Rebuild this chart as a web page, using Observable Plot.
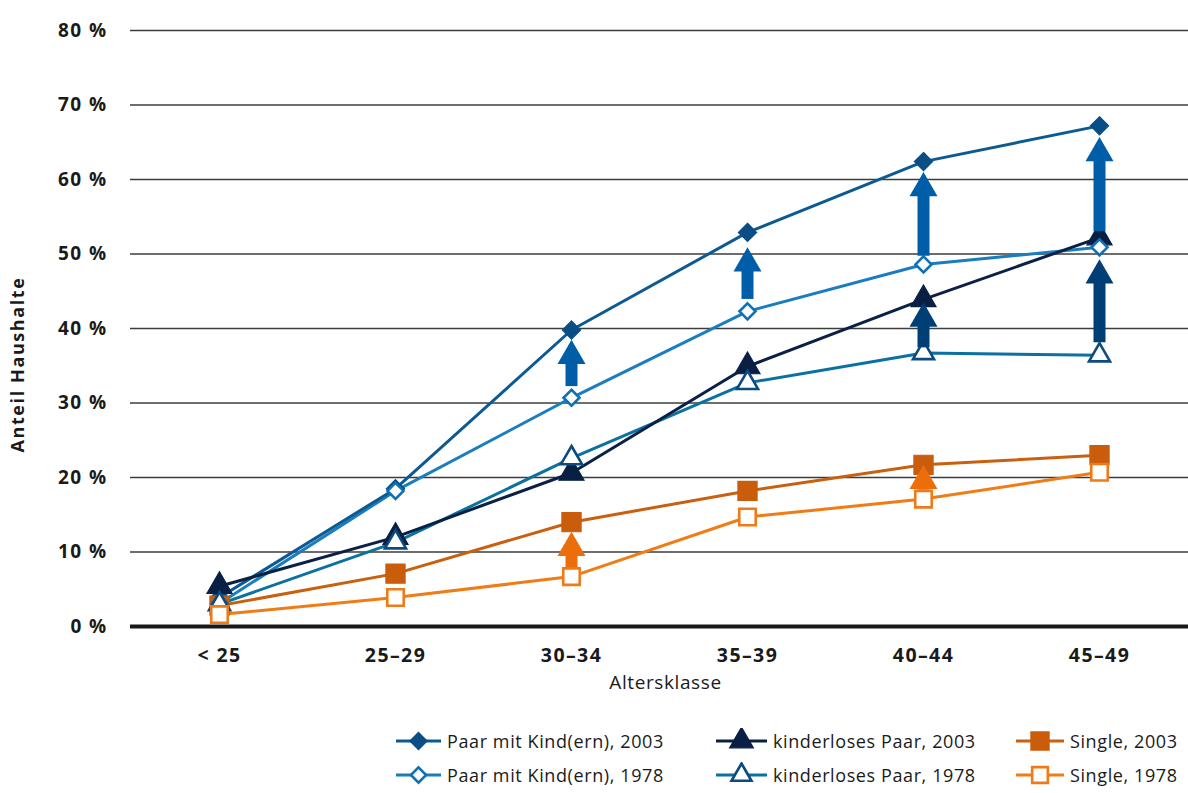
<!DOCTYPE html>
<html><head><meta charset="utf-8">
<script src="https://cdn.jsdelivr.net/npm/d3@7"></script>
<script src="https://cdn.jsdelivr.net/npm/@observablehq/plot@0.6"></script>
<style>
body{margin:0;background:#fff;font-family:"Open Sans",sans-serif;}
#wrap{position:relative;width:1188px;height:793px;overflow:hidden;}
#chart svg{display:block;}
.lg{position:absolute;display:flex;align-items:center;font-size:18px;letter-spacing:0.6px;color:#1a1a1a;white-space:nowrap;}
.lg svg{display:block;}
</style></head><body><div id="wrap"><div id="chart"></div><div id="legend"></div></div>
<script>
const ageClasses = ["< 25", "25–29", "30–34", "35–39", "40–44", "45–49"];
const paarKind2003 = [3.9, 18.5, 39.8, 52.9, 62.4, 67.2];
const paarKind1978 = [3.1, 18.2, 30.7, 42.3, 48.6, 50.9];
const kinderlos2003 = [5.4, 12.0, 20.6, 34.9, 43.9, 52.2];
const kinderlos1978 = [3.0, 11.3, 22.6, 32.7, 36.7, 36.4];
const single2003 = [2.8, 7.1, 14.0, 18.2, 21.7, 23.0];
const single1978 = [1.6, 3.9, 6.7, 14.7, 17.1, 20.7];
const yTicks = [0, 10, 20, 30, 40, 50, 60, 70, 80];

// arrows (as drawn): age class, start value, tip value, group
const arrowAge = ["30–34", "35–39", "40–44", "45–49", "40–44", "45–49", "30–34", "40–44"];
const arrowFrom = [32.2, 43.9, 49.7, 53.0, 37.4, 38.1, 7.9, 18.3];
const arrowTo = [38.5, 50.9, 61.0, 65.7, 43.5, 49.3, 12.7, 21.7];
const arrowGroup = ["paar", "paar", "paar", "paar", "kinderlos", "kinderlos", "single", "single"];
const arrowColors = {paar: "#005ea8", kinderlos: "#003f75", single: "#ec6e0a"};

const series = [
  {name: "Paar mit Kind(ern), 2003", values: paarKind2003, line: "#0d5a93", mark: "#0b4e85", symbol: "diamond2", filled: true, r: 8.2},
  {name: "kinderloses Paar, 2003", values: kinderlos2003, line: "#0a2045", mark: "#0a1f44", symbol: "triangle", filled: true, r: 9.3},
  {name: "Single, 2003", values: single2003, line: "#c9600f", mark: "#c95d0c", symbol: "square", filled: true, r: 10.8},
  {name: "Paar mit Kind(ern), 1978", values: paarKind1978, line: "#1a7dc0", mark: "#1070b5", symbol: "diamond2", filled: false, r: 7.2},
  {name: "kinderloses Paar, 1978", values: kinderlos1978, line: "#0b719f", mark: "#0c4a80", symbol: "triangle", filled: false, r: 7.8},
  {name: "Single, 1978", values: single1978, line: "#f07c16", mark: "#ef7a17", symbol: "square", filled: false, r: 9.3}
];
const lineOrder = [3, 4, 5, 0, 1, 2];

const W = 1188, H = 710, mTop = 30, mBottom = 84;
const unitsPerPx = 80 / (H - mTop - mBottom);
const headH = 24.2; // arrowhead height in px

const rows = s => ageClasses.map((a, i) => ({age: a, value: s.values[i]}));
const arrows = arrowAge.map((a, i) => ({age: a, from: arrowFrom[i], to: arrowTo[i], color: arrowColors[arrowGroup[i]]}));

const marks = [
  Plot.ruleY(yTicks.filter(t => t > 0), {y: d => d, stroke: "#3c3c3c", strokeWidth: 1.6}),
  Plot.ruleY([0], {stroke: "#1a1a1a", strokeWidth: 4}),
  ...lineOrder.map(k => Plot.line(rows(series[k]), {x: "age", y: "value", stroke: series[k].line, strokeWidth: 3})),
  ...series.map(s => Plot.dot(rows(s), {
    x: "age", y: "value", symbol: s.symbol, r: s.r,
    fill: s.filled ? s.mark : "white", stroke: s.mark, strokeWidth: s.filled ? 1.2 : 2.6
  })),
  Plot.ruleX(arrows, {x: "age", y1: "from", y2: d => d.to - (headH - 4) * unitsPerPx, stroke: "color", strokeWidth: 12}),
  Plot.dot(arrows, {x: "age", y: "to", dy: headH * 2 / 3, symbol: "triangle", r: 10.4, fill: "color", stroke: null}),
  Plot.axisY({ticks: yTicks, tickFormat: d => d + " %", tickSize: 0, tickPadding: 23, fontSize: 19, fontWeight: 700, label: null, className: "tk"}),
  Plot.axisX({tickSize: 0, tickPadding: 22, fontSize: 19.5, fontWeight: 700, label: null, className: "tk"}),
  Plot.text(["Altersklasse"], {frameAnchor: "bottom", dy: 62, dx: 6, fontSize: 19, fill: "#1a1a1a", className: "lbl"}),
  Plot.text(["Anteil Haushalte"], {frameAnchor: "left", textAnchor: "middle", rotate: -90, dx: -112, dy: 36, fontSize: 18, fontWeight: 700, fill: "#1a1a1a", className: "ylbl"})
];

const chart = Plot.plot({
  width: W, height: H,
  marginLeft: 130, marginRight: 0, marginTop: mTop, marginBottom: mBottom,
  style: {fontFamily: "'Open Sans', sans-serif", color: "#1a1a1a", background: "white", overflow: "visible"},
  x: {type: "point", domain: ageClasses, padding: 0.5},
  y: {domain: [0, 80]},
  color: {type: "identity"},
  marks
});
chart.querySelectorAll(".tk text").forEach(t => t.style.letterSpacing = "1.4px");
chart.querySelectorAll(".lbl text").forEach(t => t.style.letterSpacing = "0.6px");
chart.querySelectorAll(".ylbl text").forEach(t => t.style.letterSpacing = "1.6px");
document.getElementById("chart").append(chart);

// legend
const colLeft = [396, 716, 1016];
const colText = [447, 773, 1070];
const rowY = [741, 775];
const legend = document.getElementById("legend");
const symPath = (sym, r) => {
  const map = {diamond2: d3.symbolDiamond2, triangle: d3.symbolTriangle, square: d3.symbolSquare};
  return d3.symbol(map[sym], r * r * Math.PI)();
};
series.forEach((s, i) => {
  const col = i % 3, row = Math.floor(i / 3);
  const w = colText[col] - colLeft[col];
  const div = document.createElement("div");
  div.className = "lg";
  div.style.left = colLeft[col] + "px";
  div.style.top = (rowY[row] - 13) + "px";
  div.style.height = "26px";
  const rr = s.r * 0.95;
  div.innerHTML = `<svg width="${w}" height="26"><line x1="0" x2="${w - 6}" y1="13" y2="13" stroke="${s.line}" stroke-width="3"/>` +
    `<path transform="translate(${(w - 6) / 2},13)" d="${symPath(s.symbol, rr)}" fill="${s.filled ? s.mark : "white"}" stroke="${s.mark}" stroke-width="${s.filled ? 1.2 : 2.6}"/></svg>` +
    `<span>${s.name}</span>`;
  legend.append(div);
});
</script></body></html>
